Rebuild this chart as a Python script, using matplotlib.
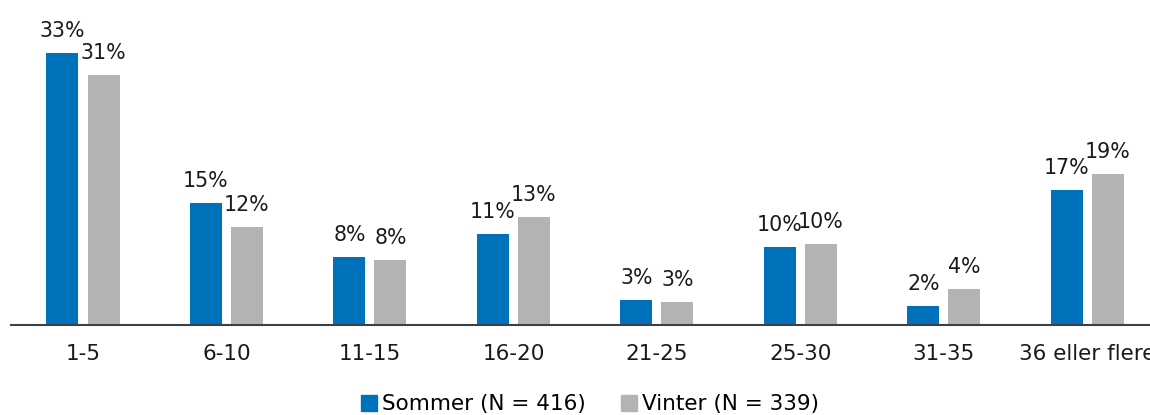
import numpy as np
import matplotlib
matplotlib.use("Agg")
from matplotlib import pyplot as plt
from matplotlib.patches import Patch

categories = ['1-5', '6-10', '11-15', '16-20', '21-25', '25-30', '31-35', '36 eller flere']
sommer = [33.4, 15.0, 8.3, 11.2, 3.0, 9.6, 2.3, 16.6]
vinter = [30.7, 12.0, 7.9, 13.2, 2.8, 9.9, 4.4, 18.6]
series_names = ['Sommer (N = 416)', 'Vinter (N = 339)']

blue = '#0072BC'
grey = '#B2B3B5'

plt.rcParams['font.family'] = ['DejaVu Sans']

fig = plt.figure(figsize=(11.5, 4.15), dpi=100)
ax = fig.add_axes([0.0098, 0.218, 0.998, 0.704])

x = np.arange(len(categories))
w = 0.223
off = 0.143

b1 = ax.bar(x - off, sommer, w, color=blue)
b2 = ax.bar(x + off, vinter, w, color=grey)

# Value labels
for bars, vals in ((b1, sommer), (b2, vinter)):
    for rect, v in zip(bars, vals):
        ax.annotate('%.0f%%' % v, (rect.get_x() + rect.get_width() / 2, v),
                    xytext=(0, 11.5), textcoords='offset points',
                    ha='center', va='baseline', fontsize=14.8, color='#1a1a1a',
                    clip_on=False, annotation_clip=False)

ax.set_xlim(-0.5, len(categories) - 0.5)
ax.set_ylim(0, 36)
ax.set_xticks(x)
ax.set_xticklabels(categories, fontsize=15.5, color='#1a1a1a')
ax.tick_params(axis='x', length=0, pad=14)
ax.set_yticks([])

for s in ('top', 'right', 'left'):
    ax.spines[s].set_visible(False)
ax.spines['bottom'].set_color('#404040')
ax.spines['bottom'].set_linewidth(1.5)

handles = [Patch(color=blue), Patch(color=grey)]
fig.legend(handles, series_names, loc='lower center', bbox_to_anchor=(0.513, -0.045),
           ncol=2, frameon=False, fontsize=15.5, handlelength=0.75, handleheight=0.75,
           handletextpad=0.25, columnspacing=1.6)

fig.savefig('out.png', dpi=100)
